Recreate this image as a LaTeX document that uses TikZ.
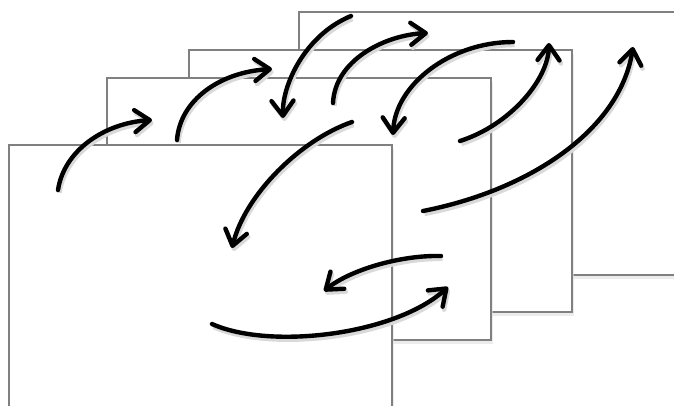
\documentclass[tikz,border=0pt]{standalone}
\usetikzlibrary{arrows.meta,shadows}
\begin{document}
\begin{tikzpicture}[x=1pt,y=-1pt,
  framebox/.style={draw=black!50,line width=2.6pt,fill=white,
    drop shadow={shadow xshift=2pt,shadow yshift=-4pt,fill=black!12,opacity=.6}},
  flow/.style={line width=4.4pt,line cap=round,
    -{Straight Barb[length=15pt,width=22pt,line cap=round,line join=round]},
    preaction={draw=black!15,line width=4.4pt,transform canvas={shift={(1.5pt,-3pt)}}}}]
\useasboundingbox (0,0) rectangle (674,406);
\clip (0,0) rectangle (674,406);
% frames, back to front
\draw[framebox] (299,12) rectangle (700,275);
\draw[framebox] (189,50) rectangle (572,312);
\draw[framebox] (107,78) rectangle (491,340);
\draw[framebox] (9,145) rectangle (392,420);
% arrow end points
\coordinate (s1) at (58,190);  \coordinate (e1) at (152,120);
\coordinate (s2) at (177,140); \coordinate (e2) at (272,69);
\coordinate (s3) at (351,16);  \coordinate (e3) at (283,118);
\coordinate (s4) at (333,103); \coordinate (e4) at (428,33);
\coordinate (s5) at (513,42);  \coordinate (e5) at (393,135);
\coordinate (s6) at (460,141); \coordinate (e6) at (549,43);
\coordinate (s7) at (423,211); \coordinate (e7) at (633,47);
\coordinate (s8) at (352,122); \coordinate (e8) at (232,248);
\coordinate (s9) at (441,256); \coordinate (e9) at (324,291);
\coordinate (s10) at (212,324); \coordinate (e10) at (448,287);
% arrows
\draw[flow] (s1) .. controls (64,150) and (105,123) .. (e1);
\draw[flow] (s2) .. controls (180,100) and (220,72) .. (e2);
\draw[flow] (s3) .. controls (305,35) and (282,85) .. (e3);
\draw[flow] (s4) .. controls (335,60) and (385,35) .. (e4);
\draw[flow] (s5) .. controls (450,42) and (395,85) .. (e5);
\draw[flow] (s6) .. controls (510,125) and (548,80) .. (e6);
\draw[flow] (s7) .. controls (530,190) and (620,130) .. (e7);
\draw[flow] (s8) .. controls (300,140) and (245,195) .. (e8);
\draw[flow] (s9) .. controls (400,255) and (350,270) .. (e9);
\draw[flow] (s10) .. controls (270,350) and (395,335) .. (e10);
\end{tikzpicture}
\end{document}
